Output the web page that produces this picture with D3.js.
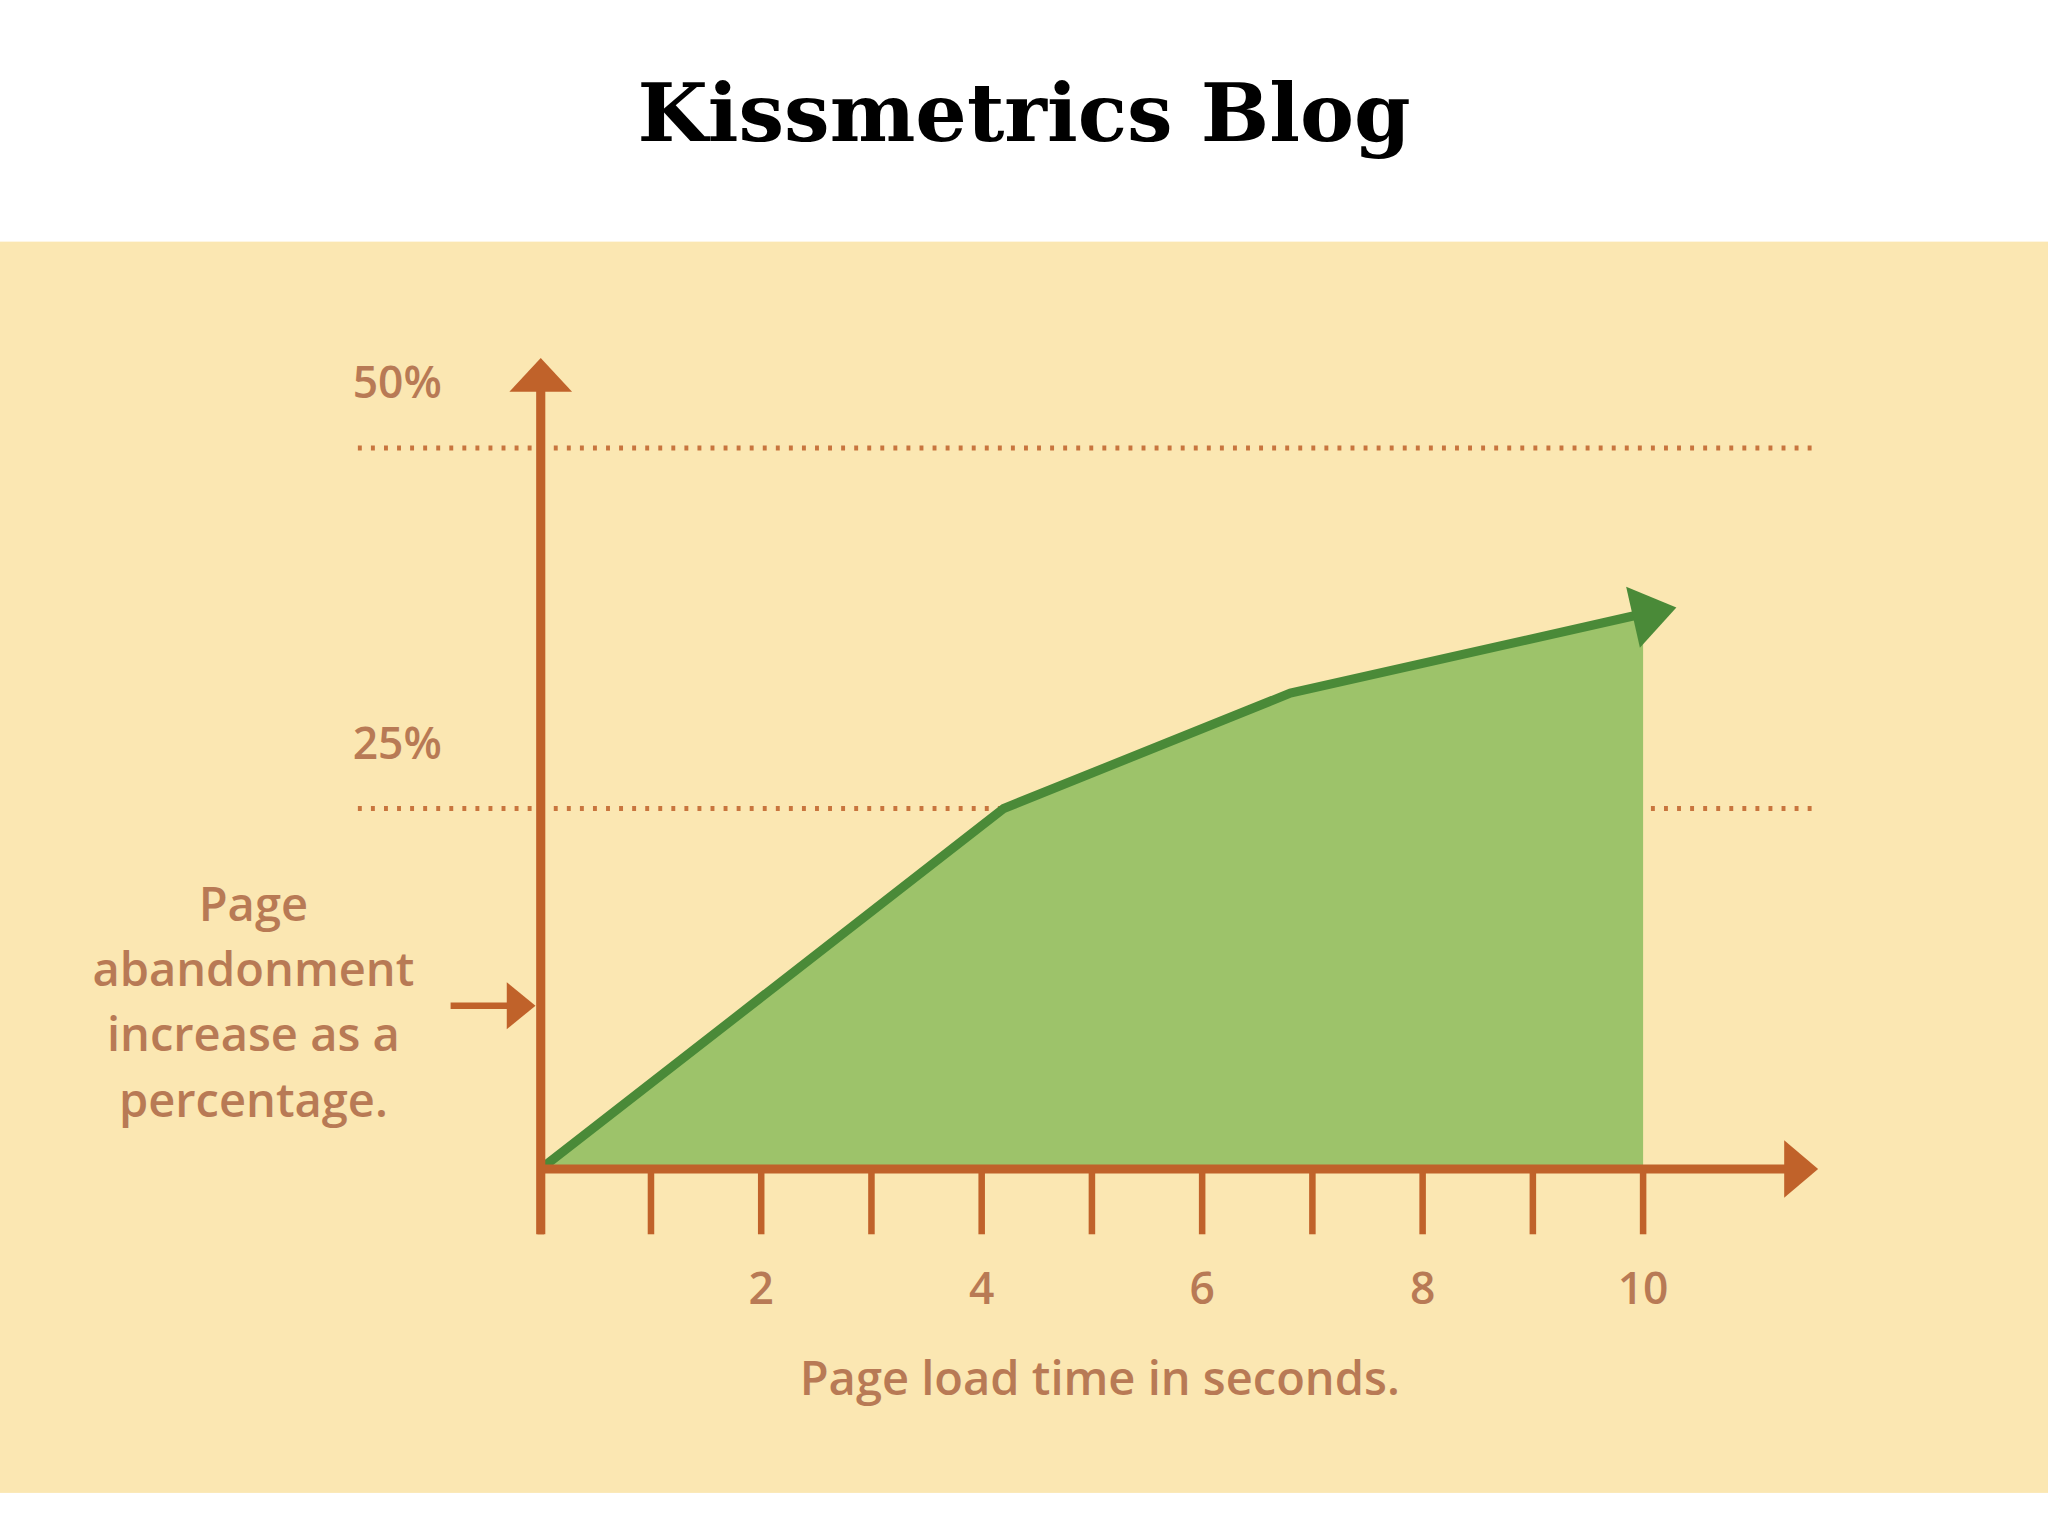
<!DOCTYPE html>
<html><head><meta charset="utf-8">
<script src="https://cdn.jsdelivr.net/npm/d3@7"></script>
<style>html,body{margin:0;padding:0;background:#fff}</style>
</head><body>
<svg id="c" width="2048" height="1536" viewBox="0 0 1568 1176"></svg>
<script>
const xs = [0, 4.2, 6.8, 10];
const ys = [0, 25, 33, 38.5];
const xTickLabels = [2, 4, 6, 8, 10];
const xTicks = [0,1,2,3,4,5,6,7,8,9,10];
const gridVals = [25, 50];
const yLabels = ["25%", "50%"];

const svg = d3.select("#c");
const axisC = "#c0622a", textC = "#b87a55";
svg.append("rect").attr("x",0).attr("y",185).attr("width",1568).attr("height",958).attr("fill","#fbe7b2");
svg.append("text").attr("x",784).attr("y",108).attr("text-anchor","middle")
  .attr("font-family","DejaVu Serif").attr("font-weight","bold").attr("font-size",62).text("Kissmetrics Blog");

const x = d3.scaleLinear().domain([0,10]).range([414,1258]);
const y = d3.scaleLinear().domain([0,50]).range([895,343]);

// grid
gridVals.forEach((v,i)=>{
  svg.append("line").attr("x1",274).attr("x2",1388).attr("y1",y(v)).attr("y2",y(v))
    .attr("stroke",axisC).attr("stroke-width",4).attr("stroke-dasharray","3,7").attr("opacity",0.85);
  svg.append("text").attr("x",270).attr("y",y(v)-38).attr("fill",textC)
    .attr("font-family","Open Sans").attr("font-weight",600).attr("font-size",34).text(yLabels[i]);
});

// area
const pts = xs.map((d,i)=>[d,ys[i]]);
svg.append("path").datum(pts).attr("fill","#9dc36a")
  .attr("d", d3.area().x(d=>x(d[0])).y0(y(0)).y1(d=>y(d[1])));
svg.append("path").datum(pts).attr("fill","none").attr("stroke","#4a8a38").attr("stroke-width",7)
  .attr("d", d3.line().x(d=>x(d[0])).y(d=>y(d[1])));
// green arrowhead at end
const p1 = [x(xs[2]),y(ys[2])], p2=[x(10),y(ys[3])];
const ang = Math.atan2(p2[1]-p1[1], p2[0]-p1[0])*180/Math.PI;
svg.append("path").attr("d","M-12,-24 L22,0 L-12,24 Z").attr("fill","#4a8a38")
  .attr("transform",`translate(${p2[0]+4},${p2[1]}) rotate(${ang})`);

// axes
svg.append("line").attr("x1",x(0)).attr("x2",1372).attr("y1",y(0)).attr("y2",y(0)).attr("stroke",axisC).attr("stroke-width",7);
svg.append("path").attr("d",`M1366,${y(0)-22} L1392,${y(0)} L1366,${y(0)+22} Z`).attr("fill",axisC);
svg.append("line").attr("x1",x(0)).attr("x2",x(0)).attr("y1",y(0)+50).attr("y2",296).attr("stroke",axisC).attr("stroke-width",7);
svg.append("path").attr("d",`M${x(0)-24},300 L${x(0)},274 L${x(0)+24},300 Z`).attr("fill",axisC);
xTicks.forEach(t=>{
  svg.append("line").attr("x1",x(t)).attr("x2",x(t)).attr("y1",y(0)).attr("y2",y(0)+50).attr("stroke",axisC).attr("stroke-width",5);
});
xTickLabels.forEach(t=>{
  svg.append("text").attr("x",x(t)).attr("y",998).attr("text-anchor","middle").attr("fill",textC)
    .attr("font-family","Open Sans").attr("font-weight",600).attr("font-size",34).text(t);
});
svg.append("text").attr("x",842).attr("y",1068).attr("text-anchor","middle").attr("fill",textC)
  .attr("font-family","Open Sans").attr("font-weight",600).attr("font-size",36).text("Page load time in seconds.");

// y label
["Page","abandonment","increase as a","percentage."].forEach((s,i)=>{
  svg.append("text").attr("x",194).attr("y",705+i*50).attr("text-anchor","middle").attr("fill",textC)
    .attr("font-family","Open Sans").attr("font-weight",600).attr("font-size",36).text(s);
});
svg.append("line").attr("x1",345).attr("x2",395).attr("y1",770).attr("y2",770).attr("stroke",axisC).attr("stroke-width",5);
svg.append("path").attr("d","M388,752 L410,770 L388,788 Z").attr("fill",axisC);
</script>
</body></html>
